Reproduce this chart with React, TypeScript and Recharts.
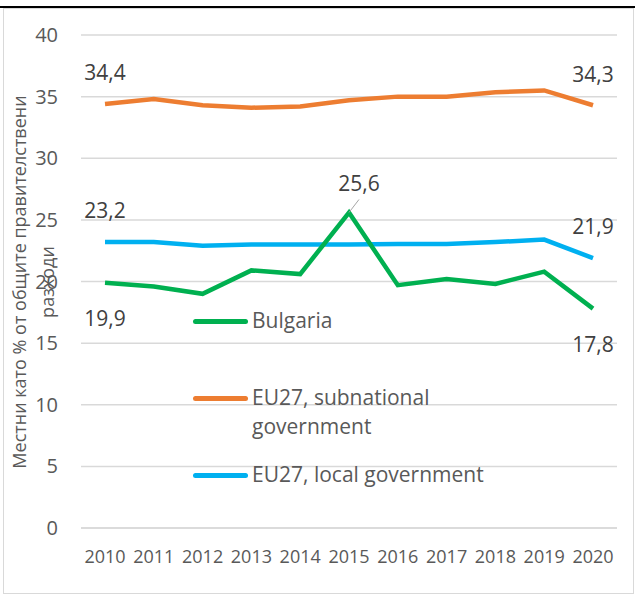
import React from 'react';
import { LineChart, Line, XAxis, YAxis, CartesianGrid, Legend, LabelList, Label } from 'recharts';

const years = ['2010', '2011', '2012', '2013', '2014', '2015', '2016', '2017', '2018', '2019', '2020'];
const bulgaria = [19.9, 19.6, 19.0, 20.9, 20.6, 25.6, 19.7, 20.2, 19.8, 20.8, 17.8];
const subnational = [34.4, 34.8, 34.3, 34.1, 34.2, 34.7, 35.0, 35.0, 35.35, 35.5, 34.3];
const local = [23.2, 23.2, 22.9, 23.0, 23.0, 23.0, 23.05, 23.05, 23.2, 23.4, 21.9];
const yTicks = [0, 5, 10, 15, 20, 25, 30, 35, 40];

const data = years.map((year, i) => ({
  year,
  bulgaria: bulgaria[i],
  subnational: subnational[i],
  local: local[i],
}));

const FONT = '"Open Sans", sans-serif';
const fmt = (v: number) => v.toFixed(1).replace('.', ',');

const makeLabel = (shown: number[], below: boolean) => (props: any) => {
  const { x, y, value, index } = props;
  if (!shown.includes(index)) return null;
  if (index === 5) {
    return (
      <g>
        <line x1={x} y1={y} x2={x + 10} y2={y - 13} stroke="#a6a6a6" strokeWidth={1} />
        <text x={x + 10} y={y - 29} dy="0.35em" textAnchor="middle" fontSize={21} fill="#404040" fontFamily={FONT}>
          {fmt(value)}
        </text>
      </g>
    );
  }
  return (
    <text x={x} y={below ? y + 36 : y - 31} dy="0.35em" textAnchor="middle" fontSize={21} fill="#404040" fontFamily={FONT}>
      {fmt(value)}
    </text>
  );
};

const legendItems = [
  { name: 'Bulgaria', color: '#00b050', lines: ['Bulgaria'] },
  { name: 'EU27, subnational government', color: '#ed7d31', lines: ['EU27, subnational', 'government'] },
  { name: 'EU27, local government', color: '#00b0f0', lines: ['EU27, local government'] },
];

const renderLegend = () => (
  <div style={{ fontFamily: FONT, fontSize: 21, color: '#595959' }}>
    {legendItems.map((item) => (
      <div key={item.name} style={{ display: 'flex', alignItems: 'flex-start', height: 77 }}>
        <div style={{ width: 55, height: 5, borderRadius: 3, background: item.color, marginTop: 13, marginRight: 4 }} />
        <div style={{ lineHeight: '29px' }}>
          {item.lines.map((l) => (
            <div key={l}>{l}</div>
          ))}
        </div>
      </div>
    ))}
  </div>
);

const yLabel = () => (
  <text transform="translate(34,282) rotate(-90)" textAnchor="middle" fontSize={18} fill="#595959" fontFamily={FONT}>
    <tspan x={0} y={-8}>Местни като % от общите правителствени</tspan>
    <tspan x={0} y={20}>разходи</tspan>
  </text>
);

export default function App() {
  return (
    <div style={{ position: 'absolute', left: 0, top: 0, width: 635, height: 596, background: '#fff' }}>
      <div style={{ position: 'absolute', left: 0, top: 6, width: 635, height: 2, background: '#000' }} />
      <div style={{ position: 'absolute', left: 3, top: 8, width: 629, height: 584, border: '1px solid #d9d9d9' }} />
      <div style={{ position: 'absolute', left: 0, top: 0 }}>
        <LineChart width={635} height={596} data={data} margin={{ top: 35, right: 18, bottom: 8, left: 0 }}>
          <CartesianGrid vertical={false} stroke="#d9d9d9" strokeWidth={1.5} />
          <XAxis
            dataKey="year"
            padding={{ left: 24, right: 24 }}
            axisLine={{ stroke: '#d9d9d9', strokeWidth: 1.5 }}
            tickLine={false}
            height={60}
            tickMargin={16}
            tick={{ fill: '#595959', fontSize: 18, fontFamily: FONT }}
            interval={0}
          />
          <YAxis
            domain={[0, 40]}
            ticks={yTicks}
            width={81}
            axisLine={false}
            tickLine={false}
            tickMargin={17}
            tick={{ fill: '#595959', fontSize: 20, fontFamily: FONT }}
          >
            <Label content={yLabel} />
          </YAxis>
          <Legend
            content={renderLegend}
            layout="vertical"
            align="center"
            verticalAlign="middle"
            wrapperStyle={{ position: 'absolute', left: 193, top: 306, width: 320 }}
          />
          <Line type="linear" dataKey="subnational" name="EU27, subnational government" stroke="#ed7d31" strokeWidth={4.5} dot={false} isAnimationActive={false}>
            <LabelList dataKey="subnational" content={makeLabel([0, 10], false)} />
          </Line>
          <Line type="linear" dataKey="local" name="EU27, local government" stroke="#00b0f0" strokeWidth={4.5} dot={false} isAnimationActive={false}>
            <LabelList dataKey="local" content={makeLabel([0, 10], false)} />
          </Line>
          <Line type="linear" dataKey="bulgaria" name="Bulgaria" stroke="#00b050" strokeWidth={4.5} dot={false} isAnimationActive={false}>
            <LabelList dataKey="bulgaria" content={makeLabel([0, 5, 10], true)} />
          </Line>
        </LineChart>
      </div>
    </div>
  );
}
